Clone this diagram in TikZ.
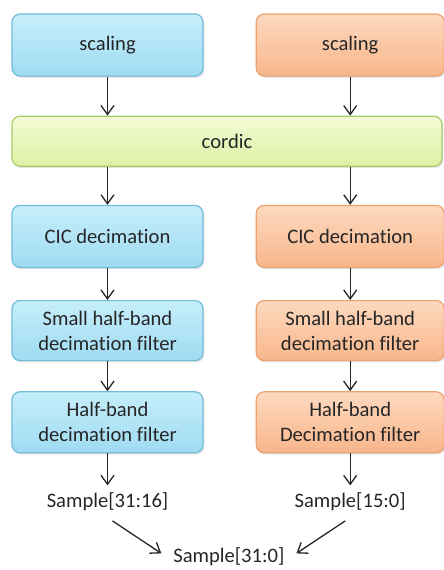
\documentclass[tikz,border=0pt]{standalone}
\usepackage{fontspec}
\setmainfont[Ligatures=NoCommon]{Carlito}
\usepackage{tikz}
\usetikzlibrary{arrows.meta,positioning,shadows,calc}
\definecolor{ddcBlueTop}{HTML}{C6EEFB}
\definecolor{ddcBlueBot}{HTML}{9FDBF2}
\definecolor{ddcBlueLine}{HTML}{72BCD9}
\definecolor{ddcOrangeTop}{HTML}{FDD9BF}
\definecolor{ddcOrangeBot}{HTML}{F8B68B}
\definecolor{ddcOrangeLine}{HTML}{EBA272}
\definecolor{ddcGreenTop}{HTML}{F4FBD6}
\definecolor{ddcGreenBot}{HTML}{DCF0A4}
\definecolor{ddcGreenLine}{HTML}{AACB6C}
\definecolor{ddcArrow}{HTML}{262626}
\tikzset{
  ddcBox/.style={
    rounded corners=4pt,
    line width=0.6pt,
    align=center,
    font=\fontsize{10.3}{12.4}\selectfont,
    text=black!85,
    inner sep=1pt,
    drop shadow={opacity=0.22, shadow xshift=0.7pt, shadow yshift=-0.9pt}
  },
  ddcBlue/.style={
    ddcBox,
    draw=ddcBlueLine,
    top color=ddcBlueTop,
    bottom color=ddcBlueBot,
    minimum width=95.5pt
  },
  ddcOrange/.style={
    ddcBox,
    draw=ddcOrangeLine,
    top color=ddcOrangeTop,
    bottom color=ddcOrangeBot,
    minimum width=94pt
  },
  ddcCordic/.style={
    ddcBox,
    draw=ddcGreenLine,
    top color=ddcGreenTop,
    bottom color=ddcGreenBot,
    minimum width=215pt,
    minimum height=25pt
  },
  ddcLabel/.style={
    font=\fontsize{10.3}{12.4}\selectfont,
    text=black!85,
    inner sep=3.3pt
  },
  ddcArrow/.style={
    -{Straight Barb[length=4.5pt,width=6.5pt]},
    line width=0.65pt,
    draw=ddcArrow
  }
}

\begin{document}
\begin{tikzpicture}[node distance=15pt and 26pt]
  \useasboundingbox (0,0) rectangle (222pt,285pt);

  \node[ddcBlue, minimum height=31pt] (scaleI) at (53.75pt,262.5pt) {scaling};
  \node[ddcOrange, minimum height=31pt, right=26pt of scaleI] (scaleQ) {scaling};

  \node[ddcCordic, below=19.5pt of scaleI.south west, anchor=north west] (cordic) {cordic};

  \node[ddcBlue, minimum height=31pt, below=19pt of cordic.south -| scaleI] (cicI) {CIC decimation};
  \node[ddcOrange, minimum height=31pt, below=19pt of cordic.south -| scaleQ] (cicQ) {CIC decimation};

  \node[ddcBlue, minimum height=30pt, below=16pt of cicI] (hbsI) {Small half-band\\decimation filter};
  \node[ddcOrange, minimum height=30pt, below=16pt of cicQ] (hbsQ) {Small half-band\\decimation filter};

  \node[ddcBlue, minimum height=30.5pt, below=15pt of hbsI] (hbI) {Half-band\\decimation filter};
  \node[ddcOrange, minimum height=30.5pt, below=15pt of hbsQ] (hbQ) {Half-band\\Decimation filter};

  \node[ddcLabel, below=16pt of hbI] (outI) {Sample[31:16]};
  \node[ddcLabel, below=16pt of hbQ] (outQ) {Sample[15:0]};

  \coordinate (outMid) at ($(outI.south)!0.5!(outQ.south)$);
  \node[ddcLabel, below=11.5pt of outMid] (outAll) {Sample[31:0]};

  \draw[ddcArrow] (scaleI) -- (scaleI |- cordic.north);
  \draw[ddcArrow] (scaleQ) -- (scaleQ |- cordic.north);
  \draw[ddcArrow] (cordic.south -| cicI) -- (cicI);
  \draw[ddcArrow] (cordic.south -| cicQ) -- (cicQ);
  \draw[ddcArrow] (cicI) -- (hbsI);
  \draw[ddcArrow] (cicQ) -- (hbsQ);
  \draw[ddcArrow] (hbsI) -- (hbI);
  \draw[ddcArrow] (hbsQ) -- (hbQ);
  \draw[ddcArrow] (hbI) -- (outI);
  \draw[ddcArrow] (hbQ) -- (outQ);
  \draw[ddcArrow, shorten <=3pt, shorten >=3pt] (outI.south) -- (outAll.west);
  \draw[ddcArrow, shorten <=3pt, shorten >=3pt] (outQ.south) -- (outAll.east);
\end{tikzpicture}
\end{document}
